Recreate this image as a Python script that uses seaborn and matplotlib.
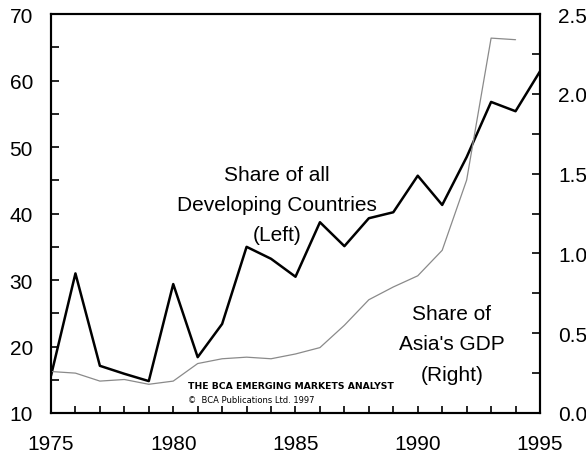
import matplotlib
matplotlib.use('Agg')
import matplotlib.pyplot as plt
import seaborn as sns
import pandas as pd
from matplotlib.ticker import MultipleLocator

# Данные
years = list(range(1975, 1996))
share_developing = [15.6, 31.0, 17.1, 15.9, 14.8, 29.4, 18.4, 23.4, 35.0, 33.2,
                    30.5, 38.7, 35.1, 39.3, 40.2, 45.7, 41.3, 48.5, 56.8, 55.4, 61.4]
years_gdp = list(range(1975, 1995))
share_gdp = [0.26, 0.25, 0.20, 0.21, 0.18, 0.20, 0.31, 0.34, 0.35, 0.34,
             0.37, 0.41, 0.55, 0.71, 0.79, 0.86, 1.02, 1.46, 2.35, 2.34]

left = pd.DataFrame({'year': years, 'value': share_developing})
right = pd.DataFrame({'year': years_gdp, 'value': share_gdp})

sns.set_style('ticks')
plt.rcParams['font.family'] = ['Liberation Sans', 'DejaVu Sans']
plt.rcParams['text.color'] = 'black'

fig = plt.figure(figsize=(5.86, 4.60), dpi=100)
ax = fig.add_axes([0.087, 0.1, 0.8345, 0.867])
ax2 = ax.twinx()

sns.lineplot(data=left, x='year', y='value', ax=ax, color='black', linewidth=1.8)
sns.lineplot(data=right, x='year', y='value', ax=ax2, color='#8a8a8a', linewidth=0.9)

ax.set_xlim(1975, 1995)
ax.set_ylim(10, 70)
ax2.set_ylim(0, 2.5)

ax.set_xticks([1975, 1980, 1985, 1990, 1995])
ax.xaxis.set_minor_locator(MultipleLocator(1))
ax.yaxis.set_major_locator(MultipleLocator(10))
ax.yaxis.set_minor_locator(MultipleLocator(5))
ax2.set_yticks([0, 0.5, 1.0, 1.5, 2.0, 2.5])
ax2.set_yticklabels(['0.0', '0.5', '1.0', '1.5', '2.0', '2.5'])
ax2.yaxis.set_minor_locator(MultipleLocator(0.25))

for a in (ax, ax2):
    a.set_xlabel('')
    a.set_ylabel('')
    for s in a.spines.values():
        s.set_visible(True)
        s.set_linewidth(1.5)
        s.set_color('black')

ax.tick_params(axis='both', which='both', direction='in', length=6, width=1.2,
               labelsize=15, pad=13, colors='black')
ax.tick_params(axis='x', which='both', length=5, pad=15)
ax.tick_params(axis='y', which='both', right=False)
ax2.tick_params(axis='y', which='both', direction='in', length=6, width=1.2,
                labelsize=15, pad=13, colors='black')
ax2.tick_params(axis='y', which='minor', length=6)

ax.text(1984.24, 41.4, 'Share of all\nDeveloping Countries\n(Left)', ha='center',
        va='center', fontsize=15, linespacing=1.75, color='black')
ax.text(1991.4, 20.4, "Share of\nAsia's GDP\n(Right)", ha='center',
        va='center', fontsize=15, linespacing=1.75, color='black')

ax.text(0.28, 0.068, 'THE BCA EMERGING MARKETS ANALYST', transform=ax.transAxes,
        fontsize=6.7, fontweight='bold', family='DejaVu Sans', va='center', color='black')
ax.text(0.28, 0.033, '\u00a9  BCA Publications Ltd. 1997', transform=ax.transAxes,
        fontsize=6, family='DejaVu Sans', va='center', color='black')

fig.savefig('out.png', dpi=100)
plt.close(fig)
